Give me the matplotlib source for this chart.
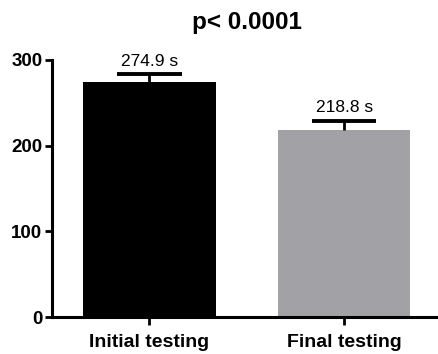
import matplotlib
matplotlib.use("Agg")
import matplotlib.pyplot as plt

plt.rcParams['font.family'] = ['Liberation Sans', 'DejaVu Sans']

groups = ["Initial testing", "Final testing"]
means = [274.9, 218.8]
sems = [8.3, 10.0]
bar_colors = ["#000000", "#A2A2A6"]
value_labels = ["274.9 s", "218.8 s"]
yticks = [0, 100, 200, 300]
title = "p< 0.0001"

fig = plt.figure(figsize=(4.39, 3.54), dpi=100)
ax = fig.add_axes([52 / 439, 37 / 354, 389.5 / 439, 257 / 354])

x = list(range(len(groups)))
bar_width = 0.68
cap_half = 0.165
ax.bar(x, means, width=bar_width, color=bar_colors, zorder=2)
for xi, m, s, lab in zip(x, means, sems, value_labels):
    top = m + s
    # upper error bar only: stem plus a single cap
    ax.vlines(xi, m, top, color="black", linewidth=2.0, zorder=3)
    ax.hlines(top, xi - cap_half, xi + cap_half, color="black",
              linewidth=2.8, zorder=3)
    ax.annotate(lab, (xi, top), xytext=(0, 4), textcoords="offset points",
                ha="center", va="bottom", fontsize=12.5)

ax.set_xlim(-0.5, 1.5)
ax.set_ylim(0, 300)
ax.set_yticks(yticks)
ax.set_yticklabels([str(t) for t in yticks], fontsize=13.5, fontweight="bold")
ax.set_xticks(x)
ax.set_xticklabels(groups, fontsize=14, fontweight="bold")

for side in ("top", "right"):
    ax.spines[side].set_visible(False)
for side in ("left", "bottom"):
    ax.spines[side].set_linewidth(2.2)
ax.tick_params(axis="both", width=2.0, length=5, pad=2)
ax.tick_params(axis="x", length=6, pad=6)

fig.text(ax.get_position().x0 + (441.5 - 52) / 2 / 439, 1 - 22 / 354, title,
         ha="center", va="center", fontsize=17.5, fontweight="bold")

fig.savefig("out.png", dpi=100)
